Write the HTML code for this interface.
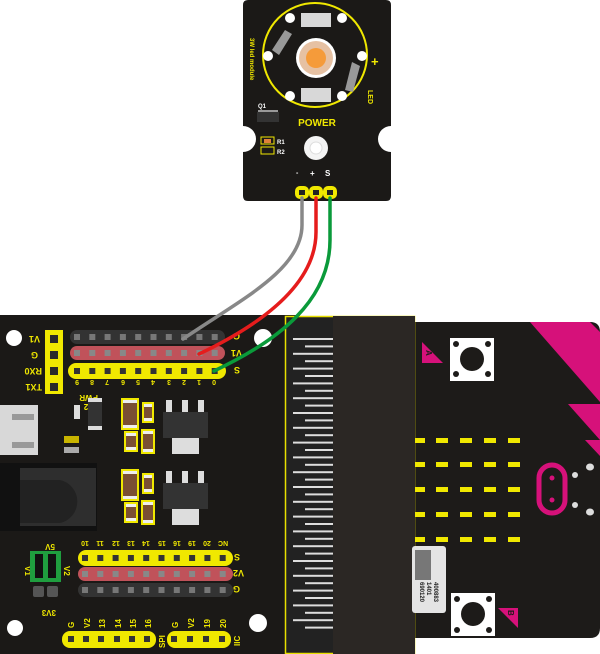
<!DOCTYPE html>
<html><head><meta charset="utf-8"><style>
html,body{margin:0;padding:0;background:#fff;width:600px;height:654px;overflow:hidden}
svg{display:block}
text{font-family:"Liberation Sans",sans-serif;font-weight:bold}
</style></head><body>
<svg id="s" width="600" height="654" viewBox="0 0 600 654" xmlns="http://www.w3.org/2000/svg">
<rect x="0" y="315" width="300" height="339" fill="#1b1917"/>
<path d="M410 322 H590 Q600 322 600 332 V628 Q600 638 590 638 H410 Z" fill="#1d1b19"/>
<polygon points="530,322 590,322 600,332 600,402" fill="#d6117a"/>
<polygon points="568,404 600,404 600,440" fill="#d6117a"/>
<polygon points="585,440 600,440 600,456" fill="#d6117a"/>
<rect x="285" y="316" width="130" height="338" fill="#222"/>
<rect x="285.5" y="316.5" width="129" height="337" fill="none" stroke="#e8e000" stroke-width="1.5"/>
<rect x="333" y="316" width="82" height="338" fill="#2b2724"/>
<g id="fingers"></g>
<rect x="450" y="338" width="44" height="43" fill="#fff"/>
<circle cx="472" cy="359" r="12" fill="#1d1b19"/>
<g fill="#1d1b19"><circle cx="456" cy="344" r="3"/><circle cx="488" cy="344" r="3"/><circle cx="456" cy="374" r="3"/><circle cx="488" cy="374" r="3"/></g>
<polygon points="422,342 422,363 443,363" fill="#d6117a"/>
<text x="0" y="0" font-size="8" fill="#1d1b19" transform="translate(426,350) rotate(90)">A</text>
<rect x="451" y="593" width="44" height="43" fill="#fff"/>
<circle cx="473" cy="614" r="12" fill="#1d1b19"/>
<g fill="#1d1b19"><circle cx="457" cy="599" r="3"/><circle cx="489" cy="599" r="3"/><circle cx="457" cy="630" r="3"/><circle cx="489" cy="630" r="3"/></g>
<polygon points="498,608 518,608 518,628" fill="#d6117a"/>
<text x="0" y="0" font-size="8" fill="#1d1b19" transform="translate(508,610) rotate(90)">B</text>
<g id="leds"></g>
<rect x="539" y="465" width="26" height="48" rx="13" fill="none" stroke="#d6117a" stroke-width="5"/>
<circle cx="552" cy="478" r="2.5" fill="#d6117a"/><circle cx="552" cy="500" r="2.5" fill="#d6117a"/>
<g fill="#ddd"><circle cx="575" cy="475" r="3"/><circle cx="575" cy="505" r="3"/><ellipse cx="590" cy="467" rx="4" ry="3.5"/><ellipse cx="590" cy="512" rx="4" ry="3.5"/></g>
<rect x="412" y="546" width="34" height="67" rx="3" fill="#e4e4e4"/>
<rect x="415" y="550" width="16" height="30" fill="#777"/>
<text font-size="6" fill="#222" transform="translate(434,582) rotate(90)">400883</text>
<text font-size="6" fill="#222" transform="translate(427,582) rotate(90)">1401</text>
<text font-size="6" fill="#222" transform="translate(420,582) rotate(90)">690120</text>
<g fill="#fff"><circle cx="14" cy="338" r="8"/><circle cx="263" cy="338" r="9"/><circle cx="15" cy="628" r="8"/><circle cx="258" cy="623" r="9"/></g>
<rect x="45" y="330" width="18" height="64" fill="#f0e800"/>
<g fill="#2a2a2a"><rect x="50" y="335" width="8" height="8"/><rect x="50" y="351" width="8" height="8"/><rect x="50" y="367" width="8" height="8"/><rect x="50" y="383" width="8" height="8"/></g>
<g fill="#f0e800" font-size="9">
<text transform="translate(40,336) rotate(180)">V1</text>
<text transform="translate(38,352) rotate(180)">G</text>
<text transform="translate(42,368) rotate(180)">RX0</text>
<text transform="translate(42,384) rotate(180)">TX1</text>
</g>
<g id="hdr"></g>
<g fill="#f0e800" font-size="9">
<text transform="translate(240,333) rotate(180)">G</text>
<text transform="translate(242,350) rotate(180)">V1</text>
<text transform="translate(240,367) rotate(180)">S</text>
<text transform="translate(240,554) rotate(180)">S</text>
<text transform="translate(244,570) rotate(180)">V2</text>
<text transform="translate(240,586) rotate(180)">G</text>
</g>
<g fill="#f0e800" font-size="7" text-anchor="middle">
<text transform="translate(77,380) rotate(180)">9</text><text transform="translate(92,380) rotate(180)">8</text><text transform="translate(107,380) rotate(180)">7</text><text transform="translate(123,380) rotate(180)">6</text><text transform="translate(138,380) rotate(180)">5</text><text transform="translate(153,380) rotate(180)">4</text><text transform="translate(169,380) rotate(180)">3</text><text transform="translate(184,380) rotate(180)">2</text><text transform="translate(199,380) rotate(180)">1</text><text transform="translate(214,380) rotate(180)">0</text>
<text transform="translate(85,541) rotate(180)">10</text><text transform="translate(100,541) rotate(180)">11</text><text transform="translate(116,541) rotate(180)">12</text><text transform="translate(131,541) rotate(180)">13</text><text transform="translate(146,541) rotate(180)">14</text><text transform="translate(162,541) rotate(180)">15</text><text transform="translate(177,541) rotate(180)">16</text><text transform="translate(192,541) rotate(180)">19</text><text transform="translate(207,541) rotate(180)">20</text><text transform="translate(223,541) rotate(180)">NC</text>
</g>
<rect x="62" y="631" width="94" height="17" rx="8" fill="#f0e800"/>
<rect x="167" y="631" width="64" height="17" rx="8" fill="#f0e800"/>
<g id="bot"></g>
<g fill="#f0e800" font-size="8">
<text transform="translate(74,628) rotate(-90)">G</text><text transform="translate(90,628) rotate(-90)">V2</text><text transform="translate(105,628) rotate(-90)">13</text><text transform="translate(121,628) rotate(-90)">14</text><text transform="translate(136,628) rotate(-90)">15</text><text transform="translate(151,628) rotate(-90)">16</text>
<text transform="translate(165,648) rotate(-90)">SPI</text>
<text transform="translate(178,628) rotate(-90)">G</text><text transform="translate(194,628) rotate(-90)">V2</text><text transform="translate(210,628) rotate(-90)">19</text><text transform="translate(226,628) rotate(-90)">20</text>
<text transform="translate(240,646) rotate(-90)">IIC</text>
<text transform="translate(55,544) rotate(180)">5V</text>
<text transform="translate(25,566) rotate(90)">V1</text>
<text transform="translate(64,566) rotate(90)">V2</text>
<text transform="translate(56,610) rotate(180)">3V3</text>
<text transform="translate(98,395) rotate(180)" font-size="8">PWR</text>
<text transform="translate(94,404) rotate(180)" font-size="8">R2</text>
</g>
<rect x="30" y="551" width="31" height="31" fill="#1f9e3f"/>
<rect x="35" y="554" width="8" height="24" fill="#111"/><rect x="48" y="554" width="8" height="24" fill="#111"/>
<g fill="#555"><rect x="33" y="586" width="11" height="11" rx="2"/><rect x="47" y="586" width="11" height="11" rx="2"/></g>
<rect x="0" y="405" width="38" height="50" fill="#d8d8d8"/>
<rect x="12" y="414" width="22" height="6" fill="#999"/><rect x="12" y="442" width="22" height="6" fill="#999"/>
<rect x="0" y="463" width="97" height="68" fill="#111"/>
<rect x="20" y="468" width="76" height="58" fill="#2e2e2e"/>
<path d="M20 480 H60 A22 22 0 0 1 60 523 H20 Z" fill="#222"/>
<rect x="74" y="405" width="6" height="14" fill="#ddd"/>
<rect x="88" y="398" width="14" height="32" fill="#333"/><rect x="88" y="398" width="14" height="4" fill="#ddd"/><rect x="88" y="426" width="14" height="4" fill="#ddd"/>
<rect x="64" y="436" width="15" height="7" fill="#c8b400"/><rect x="64" y="447" width="15" height="6" fill="#aaa"/>
<g id="caps"></g>
<g id="regs"></g>
<path d="M248 0 H386 Q391 0 391 5 V126 A12 12 0 0 0 391 152 V196 Q391 201 386 201 H248 Q243 201 243 196 V152 A12 12 0 0 0 243 126 V5 Q243 0 248 0 Z" fill="#1b1917"/>
<circle cx="315" cy="55" r="52" fill="none" stroke="#f0e800" stroke-width="2"/>
<rect x="301" y="13" width="30" height="14" fill="#d8d8d8"/><rect x="301" y="88" width="30" height="14" fill="#d8d8d8"/>
<g fill="#fff"><circle cx="290" cy="18" r="5"/><circle cx="342" cy="18" r="5"/><circle cx="268" cy="56" r="5"/><circle cx="362" cy="56" r="5"/><circle cx="290" cy="96" r="5"/><circle cx="342" cy="96" r="5"/></g>
<polygon points="272,50 285,30 292,34 279,55" fill="#999"/><polygon points="345,90 352,62 360,66 353,92" fill="#999"/>
<circle cx="316" cy="58" r="20" fill="#fff"/>
<circle cx="316" cy="58" r="17" fill="#e6c1a3"/>
<circle cx="316" cy="58" r="10" fill="#f59b3a"/>
<text x="317" y="126" font-size="10" fill="#f0e800" text-anchor="middle" font-weight="normal">POWER</text>
<text font-size="6" fill="#f0e800" font-weight="normal" transform="translate(250,38) rotate(90)">3W led module</text>
<text font-size="7" fill="#f0e800" font-weight="normal" transform="translate(368,90) rotate(90)">LED</text>
<text x="371" y="66" font-size="13" fill="#f0e800">+</text>
<text x="258" y="108" font-size="6" fill="#fff" font-weight="normal">Q1</text>
<rect x="258" y="110" width="20" height="8" fill="#999"/><rect x="257" y="112" width="22" height="10" fill="#333"/>
<rect x="261" y="137" width="13" height="7" fill="none" stroke="#f0e800"/><rect x="264" y="139" width="7" height="4" fill="#e0813a"/>
<rect x="261" y="147" width="13" height="7" fill="none" stroke="#f0e800"/>
<text x="277" y="144" font-size="6" fill="#fff" font-weight="normal">R1</text><text x="277" y="154" font-size="6" fill="#fff" font-weight="normal">R2</text>
<circle cx="316" cy="148" r="12" fill="#f4f4f4"/><circle cx="316" cy="148" r="6" fill="#fff" stroke="#ddd"/>
<text x="296" y="175" font-size="7" fill="#fff" font-weight="normal">-</text><text x="310" y="176" font-size="8" fill="#fff" font-weight="normal">+</text><text x="325" y="176" font-size="8" fill="#fff" font-weight="normal">S</text>
<g fill="#f0e800"><rect x="295" y="186" width="14" height="13" rx="5"/><rect x="309" y="186" width="14" height="13" rx="5"/><rect x="323" y="186" width="14" height="13" rx="5"/></g>
<g fill="#222"><rect x="299" y="190" width="6" height="5"/><rect x="313" y="190" width="6" height="5"/><rect x="327" y="190" width="6" height="5"/></g>
<g fill="none" stroke-width="3.5" stroke-linecap="round">
<path d="M302 198 V225 C302 270 240 300 183 339" stroke="#888"/>
<path d="M316 198 V232 C316 285 260 325 199 354" stroke="#e51c1c"/>
<path d="M330 198 V240 C330 300 280 340 214 371" stroke="#0a9a3a"/>
</g>
<script>
var NS="http://www.w3.org/2000/svg";
function R(g,x,y,w,h,f,rx){var r=document.createElementNS(NS,"rect");r.setAttribute("x",x);r.setAttribute("y",y);r.setAttribute("width",w);r.setAttribute("height",h);r.setAttribute("fill",f);if(rx)r.setAttribute("rx",rx);document.getElementById(g).appendChild(r);}
for(var i=0;i<40;i++){var y=338+i*7.4;if(y>632)break;if(i%2==0)R("fingers",293,y,40,2,"#ddd");else R("fingers",305,y,28,2,"#ddd");}
var cx=[416,436,460,484,508],ry=[438,462,487,512,537];
for(var a=0;a<5;a++)for(var b=1;b<5;b++)R("leds",cx[b],ry[a],12,5,"#f0e800");
for(var a=0;a<5;a++)R("leds",415,ry[a],10,5,"#f0e800");
R("hdr",70,330,155,14,"#333",7);R("hdr",70,346,155,14,"#c0525a",7);R("hdr",68,363,158,16,"#f0e800",8);
R("hdr",78,550,155,16,"#f0e800",8);R("hdr",78,567,155,14,"#c0525a",7);R("hdr",78,583,155,14,"#333",7);
for(var k=0;k<10;k++){var x=77+k*15.3;R("hdr",x-3,334,6,6,"#777");R("hdr",x-3,350,6,6,"#888");R("hdr",x-3,368,6,6,"#333");
var x2=85+k*15.3;R("hdr",x2-3,555,6,6,"#333");R("hdr",x2-3,571,6,6,"#888");R("hdr",x2-3,587,6,6,"#777");}
var bx=[71,86,101,117,132,147,174,190,206,222];for(var k=0;k<10;k++)R("bot",bx[k]-3,636,6,6,"#333");
function cap(x,y,w,h){R("caps",x-2,y-2,w+4,h+4,"#f0e800");R("caps",x,y,w,h,"#7a4f33");R("caps",x,y,w,3,"#eee");R("caps",x,y+h-3,w,3,"#eee");}
[[0,0],[0,71]].forEach(function(o){var d=o[1];cap(123,400+d,14,28);cap(144,404+d,8,17);cap(126,433+d,10,17);cap(143,431+d,10,21);
R("regs",166,400+d,6,12,"#ddd");R("regs",182,400+d,6,12,"#ddd");R("regs",198,400+d,6,12,"#ddd");R("regs",163,412+d,45,26,"#333");R("regs",172,438+d,27,16,"#ddd");});
</script>
</svg>
</body></html>
